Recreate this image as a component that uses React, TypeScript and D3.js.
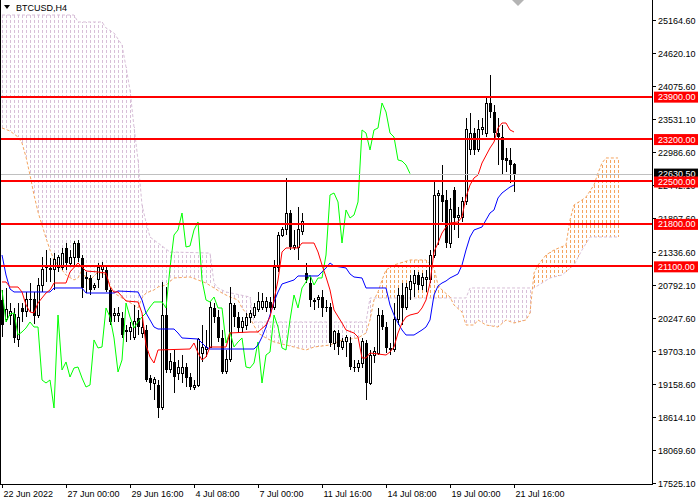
import * as d3 from "d3";

const W = 700;
const H = 500;
const PLOT_RIGHT = 652;
const PLOT_BOTTOM = 484;

// H4 bars: [open, high, low, close]
const candles: [number, number, number, number][] = [
  [20545, 20710, 19934, 20132], [20215, 20743, 20182, 20380], [20281, 20495, 20132, 20347], [20314, 20413, 19835, 19918],
  [19885, 20495, 19769, 20248], [20413, 20495, 20182, 20347], [20347, 20677, 20264, 20561], [20561, 20825, 20347, 20545],
  [20561, 20677, 20149, 20281], [20281, 20908, 20248, 20792], [20792, 21254, 20677, 21040], [21073, 21370, 20842, 21122],
  [21073, 21238, 20842, 21040], [21040, 21320, 20710, 21205], [21073, 21287, 21007, 21238], [21073, 21403, 21040, 21320],
  [21403, 21485, 21040, 21155], [21155, 21370, 21122, 21254], [21238, 21518, 21122, 21485], [21485, 21535, 21172, 21238],
  [21238, 21287, 20578, 20743], [20908, 21007, 20660, 20924], [20908, 20957, 20627, 20710], [20743, 20825, 20710, 20792],
  [20875, 21155, 20743, 21073], [21040, 21172, 20908, 21106], [21040, 21089, 20677, 20710], [20710, 20743, 20132, 20182],
  [20297, 20413, 20182, 20314], [20281, 20429, 20182, 20330], [20248, 20347, 19918, 19967], [20050, 20132, 19852, 20017],
  [20017, 20182, 19885, 20083], [19934, 20462, 19885, 20182], [20248, 20380, 19967, 20099], [20000, 20297, 19918, 20099],
  [20050, 20132, 19192, 19225], [19258, 19307, 19060, 19175], [19175, 19274, 18895, 19225], [19142, 19225, 18598, 18763],
  [18763, 20842, 18730, 20297], [20297, 20759, 19340, 19390], [19390, 19670, 19340, 19522], [19522, 19720, 19010, 19274],
  [19340, 19555, 19225, 19423], [19340, 19637, 19175, 19439], [19439, 19505, 19109, 19258], [19274, 19340, 19060, 19109],
  [19109, 19225, 19060, 19142], [19142, 19918, 19109, 19885], [19670, 20132, 19522, 19753], [19720, 20050, 19604, 19769],
  [19769, 20512, 19753, 20413], [20413, 20495, 20165, 20264], [20264, 20380, 19852, 19918], [19918, 20050, 19324, 19357],
  [19357, 19720, 19324, 19555], [19555, 20759, 19522, 20495], [20462, 20495, 20099, 20264], [20264, 20347, 20000, 20083],
  [20099, 20264, 20000, 20182], [20132, 20330, 20050, 20264], [20248, 20380, 20165, 20330], [20297, 20495, 20248, 20429],
  [20380, 20677, 20347, 20512], [20413, 20660, 20380, 20512], [20413, 20594, 20347, 20512], [20512, 20594, 20330, 20413],
  [20429, 21205, 20380, 21073], [21073, 21667, 21007, 21617], [21617, 21749, 21584, 21700], [21700, 22558, 21617, 21980],
  [21980, 22030, 21370, 21419], [21419, 21700, 21370, 21436], [21403, 22079, 21205, 21700], [21667, 21980, 21617, 21832],
  [20990, 21155, 20825, 20875], [20825, 20924, 20429, 20545], [20545, 20578, 20380, 20512], [20545, 20627, 20413, 20594],
  [20594, 20710, 20264, 20413], [20429, 20545, 20347, 20413], [20429, 20495, 19769, 19835], [19835, 20050, 19720, 20017],
  [20000, 20050, 19637, 19769], [19769, 19918, 19720, 19852], [19852, 19967, 19604, 19918], [19835, 19934, 19390, 19439],
  [19439, 19555, 19357, 19423], [19423, 19555, 19357, 19505], [19505, 19918, 19423, 19852], [19835, 19885, 18895, 19175],
  [19175, 19720, 19142, 19637], [19637, 19769, 19505, 19687], [19670, 20413, 19637, 20297], [20297, 20380, 20050, 20099],
  [20099, 20182, 19670, 19753], [19753, 19835, 19637, 19720], [19720, 20495, 19687, 20215], [20215, 20743, 20132, 20627],
  [20627, 20825, 20132, 20413], [20413, 20825, 20380, 20743], [20710, 20957, 20545, 20842], [20809, 21040, 20594, 20957],
  [20957, 21007, 20710, 20792], [20792, 20990, 20710, 20908], [20875, 21040, 20677, 20908], [20875, 21370, 20825, 21287],
  [21287, 22492, 21238, 22277], [22277, 22360, 21452, 22310], [22277, 22772, 21832, 22162], [22195, 22360, 21403, 21485],
  [21485, 22228, 21403, 22030], [22360, 22409, 21700, 21898], [21898, 22079, 21568, 21947], [21898, 22244, 21832, 22162],
  [22162, 23548, 22112, 23350], [23020, 23630, 22937, 23300], [23300, 23383, 22937, 23020], [23020, 23515, 22987, 23350],
  [23350, 23548, 23267, 23383], [23300, 23878, 23234, 23795], [23795, 24257, 23548, 23647], [23647, 23762, 23185, 23300],
  [23300, 23548, 22772, 23234], [23234, 23432, 22607, 22855], [22888, 23053, 22657, 22838], [22855, 23053, 22475, 22772],
  [22789, 22805, 22327, 22630.5],
];

// Ichimoku lines, [bar, price] vertices
const tenkanPts: [number, number][] = [
  [0, 20842], [1, 20842], [2, 20759], [4, 20759], [5, 20677], [6, 20462], [7, 20347], [8, 20330], [9, 20495],
  [10, 20578], [11, 20660], [12, 20710], [13, 20825], [16, 20825], [17, 21007], [19, 21155], [20, 21089],
  [21, 21023], [24, 21007], [26, 20990], [27, 20759], [28, 20677], [29, 20677], [31, 20528], [34, 20512],
  [35, 20330], [36, 19802], [37, 19604], [38, 19505], [39, 19720], [47, 19736], [48, 19835], [49, 19670],
  [50, 19555], [51, 19604], [52, 19769], [56, 19769], [57, 20000], [62, 20017], [64, 20017], [66, 20132],
  [67, 20264], [68, 20545], [69, 20875], [70, 21337], [71, 21403], [74, 21403], [75, 21485], [78, 21485],
  [79, 21337], [80, 21122], [81, 20924], [82, 20710], [83, 20380], [85, 20165], [86, 20050], [88, 20000],
  [89, 19934], [90, 19588], [91, 19588], [92, 19670], [96, 19637], [97, 19687], [98, 19769], [99, 20000],
  [100, 20165], [101, 20264], [102, 20297], [104, 20330], [105, 20413], [106, 20545], [107, 20825],
  [108, 21337], [109, 21485], [110, 21650], [111, 21749], [112, 21815], [114, 21832], [115, 21914],
  [116, 22244], [117, 22442], [118, 22558], [119, 22607], [120, 22805], [122, 23053], [123, 23152],
  [124, 23383], [125, 23465], [126, 23465], [127, 23350], [128, 23317],
];

const kijunPts: [number, number][] = [
  [0, 21287], [1, 20957], [2, 20726], [3, 20677], [12, 20677], [13, 20743], [20, 20743], [21, 20660],
  [28, 20660], [29, 20693], [34, 20677], [35, 20545], [36, 20330], [37, 20215], [38, 20099], [39, 20066],
  [43, 20066], [44, 20000], [45, 19918], [49, 19901], [50, 19835], [51, 19769], [52, 19736], [63, 19736],
  [64, 19802], [65, 19934], [66, 20099], [67, 20297], [68, 20512], [69, 20677], [70, 20809], [73, 20875],
  [74, 20941], [79, 20941], [80, 21007], [81, 21073], [82, 21155], [83, 21106], [86, 21073], [87, 20974],
  [88, 20924], [90, 20908], [91, 20743], [96, 20743], [97, 20462], [98, 20297], [99, 20165], [100, 20050],
  [101, 19967], [103, 19967], [105, 20050], [106, 20099], [107, 20215], [108, 20627], [109, 20776],
  [110, 20825], [111, 20858], [112, 20908], [114, 20974], [115, 21122], [116, 21370], [117, 21584],
  [118, 21700], [120, 21749], [121, 21865], [122, 21980], [123, 22030], [124, 22228], [125, 22310],
  [126, 22360], [127, 22409], [128, 22442],
];

const spanAPts: [number, number][] = [
  [0, 23383], [2, 23333], [4, 23234], [5, 23135], [6, 22904], [7, 22607], [8, 22277], [9, 21997],
  [10, 21782], [11, 21568], [12, 21370], [13, 21205], [14, 21122], [15, 21040], [16, 20957], [18, 20875],
  [19, 20908], [20, 21040], [21, 20908], [22, 20875], [24, 21007], [26, 20957], [27, 20792], [28, 20660],
  [30, 20578], [33, 20462], [34, 20413], [35, 20578], [36, 20660], [38, 20710], [39, 20759], [41, 20792],
  [43, 20908], [47, 20924], [49, 20875], [51, 20825], [53, 20743], [55, 20660], [57, 20594], [59, 20545],
  [60, 20413], [62, 20248], [64, 20000], [66, 19918], [68, 19852], [73, 19769], [76, 19720], [78, 19769],
  [82, 19802], [85, 19885], [89, 19918], [91, 20000], [92, 20215], [93, 20545], [94, 20677], [95, 20875],
  [96, 21040], [98, 21122], [102, 21205], [106, 21205], [108, 21073], [109, 20792], [110, 20710],
  [112, 20594], [113, 20462], [115, 20347], [116, 20132], [118, 20132], [119, 20215], [121, 20132],
  [124, 20099], [126, 20215], [128, 20165], [131, 20215], [132, 20330], [133, 20990], [134, 21122],
  [136, 21287], [138, 21370], [141, 21452], [142, 21865], [143, 22112], [145, 22195], [146, 22244],
  [148, 22442], [149, 22640], [150, 22805], [151, 22888], [154, 22888],
];

const spanBPts: [number, number][] = [
  [0, 25247], [18, 25247], [19, 25132], [25, 25132], [26, 25033], [28, 24950], [30, 24752], [31, 24389],
  [32, 24010], [33, 23399], [34, 22855], [35, 22112], [36, 21832], [37, 21584], [39, 21485], [42, 21337],
  [52, 21320], [53, 20825], [54, 20743], [56, 20677], [62, 20594], [63, 20182], [91, 20182], [92, 20578],
  [116, 20578], [117, 20743], [133, 20743], [135, 20825], [137, 20908], [140, 20957], [143, 21122],
  [145, 21370], [147, 21584], [154, 21584],
];

const CHIKOU_SHIFT = 26;
const levels = [23900, 23200, 22500, 21800, 21100];
const lastPrice = 22630.5;

const priceTicks = [
  25164.6, 24620.1, 24075.6, 23531.1, 22986.6, 22442.1, 21897.6, 21336.6,
  20792.1, 20247.6, 19703.1, 19158.6, 18614.1, 18069.6, 17525.1,
];

const timeLabels: [number, string][] = [
  [0, "22 Jun 2022"], [16, "27 Jun 00:00"], [32, "29 Jun 16:00"], [48, "4 Jul 08:00"], [64, "7 Jul 00:00"],
  [80, "11 Jul 16:00"], [96, "14 Jul 08:00"], [112, "19 Jul 00:00"], [128, "21 Jul 16:00"],
];

const SANDY = "#F4A460";
const THISTLE = "#D8BFD8";
const FONT = "'Liberation Sans', Arial, sans-serif";

// value of a polyline at bar i (for the cloud hatching)
function valueAt(pts: [number, number][], i: number): number {
  for (let k = 1; k < pts.length; k++) {
    if (i <= pts[k][0]) {
      const [x0, y0] = pts[k - 1];
      const [x1, y1] = pts[k];
      return x1 === x0 ? y1 : y0 + ((y1 - y0) * (i - x0)) / (x1 - x0);
    }
  }
  return pts[pts.length - 1][1];
}

export default function App() {
  const lastBar = candles.length - 1;
  const cloudEnd = lastBar + CHIKOU_SHIFT;

  const x = d3.scaleLinear().domain([0, cloudEnd]).range([2, 2 + 4 * cloudEnd]);
  const y = d3.scaleLinear().domain([17525.1, 25164.6]).range([483, 20]);

  const line = d3
    .line<[number, number]>()
    .x((d) => x(d[0]))
    .y((d) => y(d[1]));

  const chikouPts: [number, number][] = candles
    .slice(CHIKOU_SHIFT)
    .map((c, k) => [k, c[3]]);

  const cloudBars = d3.range(0, cloudEnd + 1);

  return (
    <>
      <style>{"body{margin:0}"}</style>
      <svg width={W} height={H} style={{ display: "block", background: "#fff" }} fontFamily={FONT}>
        <defs>
          <clipPath id="plot">
            <rect x={1} y={0} width={PLOT_RIGHT - 1} height={PLOT_BOTTOM} />
          </clipPath>
        </defs>

        <g clipPath="url(#plot)">
          {/* Kumo hatching, dashes aligned on a common 5px grid */}
          {cloudBars.map((i) => {
            const a = y(valueAt(spanAPts, i));
            const b = y(valueAt(spanBPts, i));
            const cx = Math.round(x(i)) + 0.5;
            const y1 = Math.round(Math.min(a, b));
            const y2 = Math.round(Math.max(a, b));
            return (
              <line
                key={i}
                x1={cx}
                x2={cx}
                y1={y1}
                y2={y2}
                stroke={a < b ? SANDY : THISTLE}
                strokeDasharray="3 2"
                strokeDashoffset={y1 % 5}
                shapeRendering="crispEdges"
              />
            );
          })}
          <path d={line(spanBPts) ?? ""} fill="none" stroke={THISTLE} strokeDasharray="3 2" />
          <path d={line(spanAPts) ?? ""} fill="none" stroke={SANDY} strokeDasharray="3 2" />

          {/* Candles */}
          {candles.map(([o, h, l, c], i) => {
            const cx = Math.round(x(i));
            const top = y(Math.max(o, c));
            const bot = y(Math.min(o, c));
            const bull = c >= o;
            return (
              <g key={i} shapeRendering="crispEdges">
                <line x1={cx + 0.5} x2={cx + 0.5} y1={y(h)} y2={y(l)} stroke="#000" />
                {bull ? (
                  <rect x={cx - 0.5} y={top} width={2} height={Math.max(bot - top, 1)} fill="#fff" stroke="#000" />
                ) : (
                  <rect x={cx - 1} y={top} width={3} height={Math.max(bot - top, 1)} fill="#000" />
                )}
              </g>
            );
          })}

          {/* Tenkan, Kijun, Chikou */}
          <path d={line(chikouPts) ?? ""} fill="none" stroke="#00FF00" strokeWidth={1} />
          <path d={line(kijunPts) ?? ""} fill="none" stroke="#0000FF" strokeWidth={1} />
          <path d={line(tenkanPts) ?? ""} fill="none" stroke="#FF0000" strokeWidth={1} />

          {/* Bid line */}
          <line
            x1={0}
            x2={PLOT_RIGHT}
            y1={Math.round(y(lastPrice)) + 0.5}
            y2={Math.round(y(lastPrice)) + 0.5}
            stroke="#C0C0C0"
            shapeRendering="crispEdges"
          />

          {/* Horizontal levels */}
          {levels.map((p) => (
            <line
              key={p}
              x1={0}
              x2={PLOT_RIGHT}
              y1={Math.round(y(p))}
              y2={Math.round(y(p))}
              stroke="#FF0000"
              strokeWidth={2}
              shapeRendering="crispEdges"
            />
          ))}
        </g>

        {/* chart shift marker */}
        <polygon
          points={`${x(lastBar + 1) - 6},0 ${x(lastBar + 1) + 6},0 ${x(lastBar + 1)},6`}
          fill="#B4B4B4"
        />

        {/* Frame */}
        <g shapeRendering="crispEdges" stroke="#000">
          <line x1={0.5} x2={0.5} y1={0} y2={PLOT_BOTTOM} />
          <line x1={0} x2={PLOT_RIGHT + 0.5} y1={PLOT_BOTTOM + 0.5} y2={PLOT_BOTTOM + 0.5} />
          <line x1={PLOT_RIGHT + 0.5} x2={PLOT_RIGHT + 0.5} y1={0} y2={PLOT_BOTTOM + 1} />
        </g>

        {/* Price axis */}
        {priceTicks.map((p) => {
          const ty = Math.round(y(p)) + 0.5;
          return (
            <g key={p}>
              <line x1={PLOT_RIGHT} x2={PLOT_RIGHT + 4} y1={ty} y2={ty} stroke="#000" shapeRendering="crispEdges" />
              <text x={PLOT_RIGHT + 6} y={ty + 3.5} fontSize={9} fill="#000">
                {p.toFixed(2)}
              </text>
            </g>
          );
        })}

        {/* Time axis */}
        {timeLabels.map(([bar, label]) => {
          const tx = Math.round(x(bar)) + 0.5;
          return (
            <g key={bar}>
              <line x1={tx} x2={tx} y1={PLOT_BOTTOM} y2={PLOT_BOTTOM + 4} stroke="#000" shapeRendering="crispEdges" />
              <text x={tx + 1} y={PLOT_BOTTOM + 13} fontSize={9} fill="#000">
                {label}
              </text>
            </g>
          );
        })}

        {/* Last price label */}
        <rect x={PLOT_RIGHT + 2} y={y(lastPrice) - 5} width={44} height={10} fill="#000" />
        <text x={PLOT_RIGHT + 6} y={y(lastPrice) + 3.5} fontSize={9} fill="#fff">
          {lastPrice.toFixed(2)}
        </text>

        {/* Level labels */}
        {levels.map((p) => (
          <g key={p}>
            <rect x={PLOT_RIGHT + 2} y={y(p) - 5} width={44} height={11} fill="#FF0000" />
            <text x={PLOT_RIGHT + 6} y={y(p) + 3.5} fontSize={9} fill="#fff">
              {p.toFixed(2)}
            </text>
          </g>
        ))}

        {/* Title */}
        <polygon points="4,5 10,5 7,9" fill="#000" />
        <text x={16} y={11} fontSize={9} fill="#000">
          BTCUSD,H4
        </text>
      </svg>
    </>
  );
}
